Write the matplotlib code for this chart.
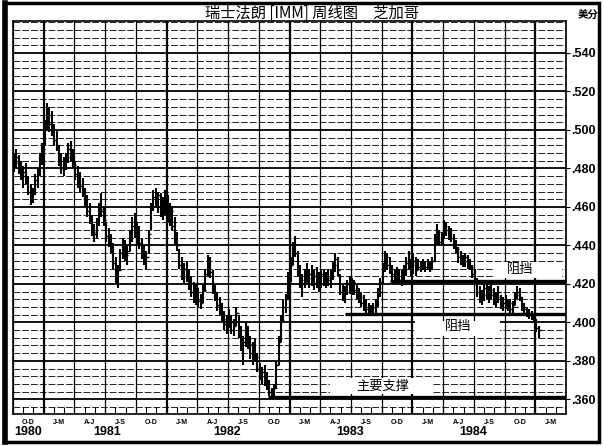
import numpy as np
import matplotlib
matplotlib.use('Agg')
import matplotlib.pyplot as plt
from matplotlib.patches import Rectangle

plt.rcParams['font.family'] = ['Liberation Sans', 'Noto Sans CJK SC', 'DejaVu Sans']
CJK = ['Noto Sans CJK SC', 'DejaVu Sans']

# Weekly bars, Swiss franc IMM, Oct 1980 .. Jan 1985 (values in thousandths of a dollar)
highs = [
    488, 490, 487, 484, 481, 483, 476, 472, 470, 477, 480, 488, 493,
    505, 514, 512, 510, 503, 500, 492, 488, 486, 488, 493, 494, 490,
    484, 481, 478, 475, 470, 466, 462, 456, 451, 454, 462, 467, 460,
    452, 449, 446, 441, 434, 430, 438, 444, 443, 440, 448, 455, 457,
    452, 450, 444, 440, 437, 448, 462, 469, 470, 468, 467, 465, 469,
    466, 462, 460, 455, 447, 438, 434, 431, 432, 428, 424, 421, 420,
    418, 415, 420, 428, 435, 434, 427, 420, 416, 413, 410, 406, 404,
    407, 404, 402, 408, 404, 398, 393, 400, 398, 393, 390, 392, 384,
    379, 377, 378, 374, 370, 366, 368, 380, 393, 404, 412, 415, 426,
    434, 442, 445, 437, 430, 425, 428, 431, 428, 430, 427, 429, 426,
    428, 427, 426, 428, 427, 432, 436, 434, 425, 420, 419, 422, 424,
    423, 422, 420, 418, 416, 414, 412, 410, 409, 410, 412, 418, 423,
    431, 437, 436, 434, 430, 428, 429, 428, 427, 430, 434, 437, 433,
    436, 434, 433, 432, 433, 432, 433, 432, 434, 446, 451, 448, 447,
    453, 452, 450, 449, 446, 443, 439, 437, 435, 436, 435, 433, 430,
    428, 423, 419, 417, 420, 422, 419, 421, 418, 416, 419, 414, 413,
    414, 412, 412, 411, 416, 419, 418, 413, 410, 408, 407, 406, 405,
    402, 398,
]
lows = [
    478, 480, 477, 474, 470, 472, 466, 461, 462, 466, 470, 476, 482,
    492, 500, 499, 497, 492, 489, 481, 477, 476, 479, 483, 484, 480,
    474, 470, 468, 465, 460, 455, 451, 445, 442, 444, 450, 455, 450,
    442, 439, 436, 428, 420, 418, 428, 433, 432, 430, 437, 442, 444,
    440, 438, 433, 430, 428, 436, 448, 458, 460, 457, 455, 453, 456,
    452, 450, 448, 440, 437, 428, 422, 420, 421, 417, 413, 410, 409,
    408, 407, 410, 416, 424, 423, 415, 411, 406, 404, 400, 396, 394,
    397, 394, 393, 398, 392, 385, 378, 387, 386, 381, 378, 380, 374,
    370, 368, 367, 365, 362, 361, 362, 366, 378, 390, 401, 405, 412,
    421, 430, 434, 424, 418, 413, 418, 420, 418, 419, 417, 418, 416,
    418, 419, 418, 419, 418, 422, 426, 424, 414, 411, 410, 414, 415,
    414, 414, 412, 410, 408, 406, 405, 404, 404, 404, 405, 408, 413,
    420, 426, 427, 425, 422, 420, 421, 420, 419, 421, 424, 427, 424,
    425, 424, 427, 426, 427, 426, 427, 426, 427, 432, 440, 440, 440,
    444, 445, 443, 442, 438, 436, 431, 430, 429, 429, 428, 427, 423,
    420, 413, 410, 409, 411, 412, 410, 412, 409, 408, 410, 407, 406,
    407, 406, 405, 405, 409, 412, 411, 406, 405, 403, 402, 401, 400,
    395, 392,
]
closes = [
    483, 486, 480, 476, 478, 474, 468, 464, 468, 474, 478, 486, 490,
    502, 508, 503, 500, 495, 492, 484, 480, 482, 486, 490, 487, 482,
    477, 473, 471, 467, 462, 458, 454, 447, 446, 452, 459, 458, 453,
    445, 441, 440, 431, 424, 427, 436, 440, 435, 437, 445, 450, 447,
    449, 441, 436, 432, 434, 446, 460, 465, 463, 466, 458, 460, 462,
    455, 458, 450, 443, 440, 430, 426, 428, 424, 420, 416, 418, 412,
    411, 410, 417, 425, 432, 426, 418, 414, 409, 406, 402, 399, 401,
    400, 396, 398, 405, 394, 388, 390, 396, 389, 384, 386, 382, 376,
    372, 374, 370, 368, 364, 363, 366, 378, 390, 401, 408, 412, 424,
    430, 440, 436, 427, 422, 420, 426, 423, 425, 421, 424, 420, 422,
    425, 421, 423, 422, 425, 430, 433, 427, 416, 414, 416, 420, 418,
    421, 417, 415, 413, 410, 409, 407, 406, 406, 408, 410, 416, 421,
    429, 434, 430, 428, 425, 423, 426, 422, 424, 428, 431, 429, 430,
    432, 427, 429, 430, 428, 429, 430, 428, 432, 443, 447, 442, 445,
    450, 448, 446, 444, 440, 438, 434, 433, 432, 434, 430, 429, 425,
    422, 416, 412, 414, 418, 415, 417, 414, 411, 413, 416, 409, 410,
    408, 410, 407, 409, 414, 416, 413, 408, 407, 405, 404, 403, 402,
    397, 396,
]

quarter_labels = ['O-D', 'J-M', 'A-J', 'J-S'] * 4 + ['O-D', 'J-M']
year_labels = ['1980', '1981', '1982', '1983', '1984']
year_label_month = [1.5, 9.2, 20.9, 32.9, 44.9]

# trend lines drawn on the chart: (price, start month)
support = (0.3612, 24.9)
resist_low = (0.4046, 32.4)
resist_high = (0.4216, 36.8)

# annotation text, centre and the white patch behind it (months, price)
notes = [
    ('阻挡', 49.5, 0.4275, (47.1, 53.6, 0.4233, 0.4316)),
    ('阻挡', 43.5, 0.3979, (39.3, 47.6, 0.3927, 0.4005)),
    ('主要支撑', 36.1, 0.3668, (31.0, 40.9, 0.3626, 0.3709)),
]


def main():
    hi = np.array(highs) / 1000
    lo = np.array(lows) / 1000
    cl = np.array(closes) / 1000
    x = np.arange(len(hi)) * 12 / 52 + 0.1   # months since 1 Oct 1980

    fig = plt.figure(figsize=(6.03, 4.46), dpi=100)
    ax = fig.add_axes([13/603, 32/446, 553/603, 393/446])
    ax.set_xlim(0, 54)
    ax.set_ylim(0.3524, 0.5566)

    # horizontal grid (.004 steps, heavier every .020)
    for m in range(356, 557, 4):
        if (m - 360) % 20 == 0:
            ax.axhline(m/1000, color='black', lw=1.3, zorder=1)
        else:
            ax.axhline(m/1000, color='#222222', lw=0.7, ls=(0, (7, 2)), zorder=1)

    # vertical grid at quarter starts, heavier at each new year
    for q in range(0, 55, 3):
        ax.axvline(q, color='black', lw=1.6 if q % 12 == 3 else 0.9, zorder=1)

    # monthly tick strip at the bottom
    ax.vlines(np.arange(0, 55), 0.3524, 0.356, color='black', lw=0.8, zorder=1)

    # weekly bars
    ax.vlines(x, lo, hi, color='black', lw=1.5, zorder=3)
    ax.hlines(cl, x, x + 0.25, color='black', lw=1.0, zorder=3)

    # support / resistance lines
    for price, start in (support, resist_low, resist_high):
        ax.hlines(price, start, 54, color='black', lw=2.4, zorder=4)

    for label, tx, ty, (x0, x1, y0, y1) in notes:
        ax.add_patch(Rectangle((x0, y0), x1 - x0, y1 - y0, facecolor='white',
                               edgecolor='none', zorder=2))
        ax.text(tx, ty, label, family=CJK, fontsize=9.5, ha='center', va='center', zorder=5)

    # axes / ticks
    for s in ax.spines.values():
        s.set_linewidth(1.2)
    ax.yaxis.tick_right()
    yt = np.arange(360, 541, 20)
    ax.set_yticks(yt / 1000)
    ax.set_yticklabels(['.%03d' % v for v in yt], fontsize=9, fontweight='bold')
    ax.tick_params(axis='y', length=3, width=0.8, pad=1)

    ax.set_xticks(np.arange(1.5, 54, 3))
    ax.set_xticklabels(quarter_labels, fontsize=5, fontweight='bold')
    ax.tick_params(axis='x', length=0, pad=3.5)
    for label, pos in zip(year_labels, year_label_month):
        ax.text(pos, -0.047, label, transform=ax.get_xaxis_transform(),
                fontsize=9, fontweight='bold', ha='center', va='center')

    fig.text(0.517, 1 - 13/446, '瑞士法朗 [IMM] 周线图　芝加哥', family=CJK,
             fontsize=11, ha='center', va='center')
    fig.text(588/603, 1 - 15/446, '美分', family=CJK, fontsize=7.5,
             fontweight='bold', ha='center', va='center')

    # outer frame of the scanned figure
    fig.patches.append(Rectangle((0.006, 0.008), 0.988, 0.986, transform=fig.transFigure,
                                 fill=False, edgecolor='black', lw=2.5))
    fig.lines.append(plt.Line2D([0.009, 0.009], [0.008, 0.994], transform=fig.transFigure,
                                color='black', lw=4))

    fig.savefig('out.png', dpi=100)


if __name__ == '__main__':
    main()
